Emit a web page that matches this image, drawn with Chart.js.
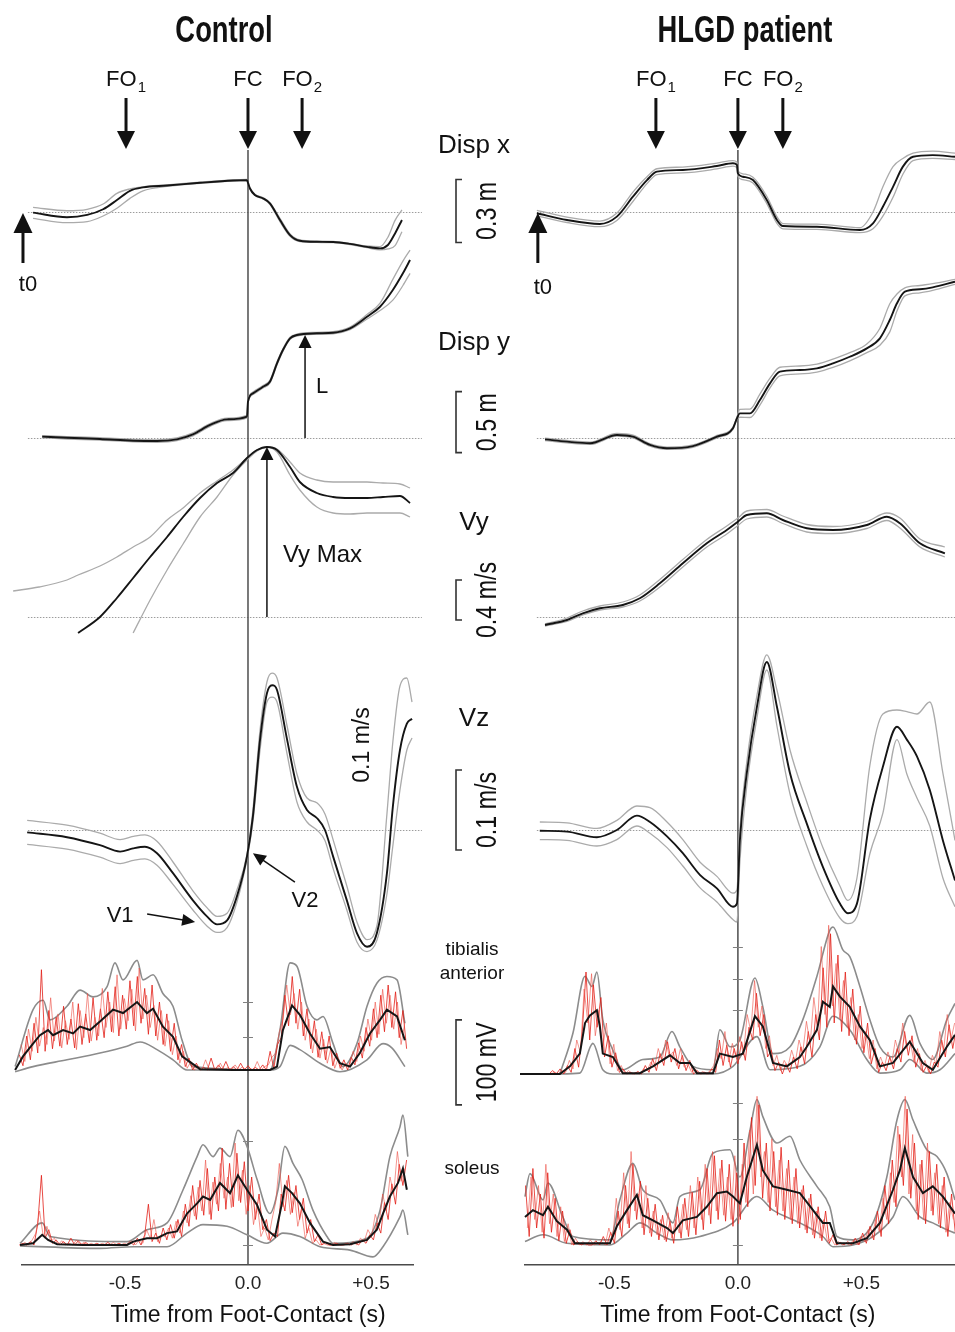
<!DOCTYPE html>
<html>
<head>
<meta charset="utf-8">
<title>Control vs HLGD patient</title>
<script src="https://cdn.jsdelivr.net/npm/chart.js@4.4.1/dist/chart.umd.min.js"></script>
<style>
  html, body { margin: 0; padding: 0; background: #fff; }
  #figure { position: relative; width: 955px; height: 1332px; overflow: hidden; }
  canvas { position: absolute; top: 0; }
</style>
</head>
<body>
<div id="figure">
  <canvas id="ctlChart" width="530" height="1332" style="left:0"></canvas>
  <canvas id="hlgChart" width="435" height="1332" style="left:520px"></canvas>
</div>
<script>
// time from foot contact (s)
const xTicks = [-0.5, 0, 0.5];
const eventNames = ['FO', 'FC', 'FO'];
const eventSubs = ['1', '', '2'];
const RAW_DT = 0.015;

// ---------- Control ----------
const ctlEvents = [-0.496, 0, 0.22];
const ctlT0 = -0.915;

const ctlDxT    = [-0.874, -0.736, -0.654, -0.589, -0.533, -0.480, -0.427, -0.329, -0.195, -0.061, -0.004, 0.0, 0.008, 0.028, 0.061, 0.089, 0.130, 0.171, 0.211, 0.280, 0.346, 0.415, 0.484, 0.537, 0.569, 0.598, 0.626];
const ctlDxMean = [-0.003, -0.025, -0.014, 0.013, 0.057, 0.101, 0.117, 0.126, 0.139, 0.150, 0.152, 0.139, 0.112, 0.081, 0.065, 0.041, -0.038, -0.110, -0.137, -0.142, -0.143, -0.152, -0.166, -0.173, -0.157, -0.102, -0.038];
const ctlDxHi   = [0.022, 0.006, 0.013, 0.038, 0.089, 0.110, 0.120, 0.129, 0.142, 0.153, 0.155, 0.142, 0.115, 0.084, 0.068, 0.044, -0.030, -0.104, -0.133, -0.139, -0.140, -0.149, -0.162, -0.165, -0.120, -0.040, 0.010];
const ctlDxLo   = [-0.030, -0.051, -0.046, -0.019, 0.018, 0.065, 0.101, 0.122, 0.136, 0.147, 0.149, 0.136, 0.108, 0.078, 0.062, 0.037, -0.046, -0.116, -0.141, -0.145, -0.146, -0.155, -0.170, -0.180, -0.176, -0.160, -0.094];

const ctlDyT    = [-0.837, -0.736, -0.602, -0.467, -0.370, -0.289, -0.224, -0.154, -0.085, -0.004, 0.0, 0.020, 0.061, 0.089, 0.118, 0.142, 0.171, 0.199, 0.280, 0.346, 0.415, 0.484, 0.537, 0.589, 0.630, 0.659];
const ctlDyMean = [0.011, 0.002, -0.008, -0.022, -0.025, -0.011, 0.030, 0.107, 0.153, 0.175, 0.298, 0.366, 0.420, 0.461, 0.612, 0.721, 0.817, 0.844, 0.858, 0.863, 0.899, 0.994, 1.076, 1.213, 1.350, 1.459];
const ctlDyHi   = [0.020, 0.012, 0.002, -0.012, -0.015, 0.000, 0.042, 0.118, 0.163, 0.185, 0.308, 0.376, 0.430, 0.472, 0.625, 0.732, 0.826, 0.852, 0.866, 0.872, 0.910, 1.012, 1.105, 1.300, 1.450, 1.540];
const ctlDyLo   = [0.002, -0.008, -0.018, -0.032, -0.035, -0.022, 0.018, 0.096, 0.143, 0.165, 0.288, 0.356, 0.410, 0.450, 0.600, 0.710, 0.808, 0.836, 0.850, 0.854, 0.888, 0.975, 1.045, 1.130, 1.250, 1.350];

const ctlVyT    = [-0.955, -0.85, -0.736, -0.691, -0.602, -0.533, -0.467, -0.398, -0.329, -0.264, -0.195, -0.126, -0.061, -0.004, 0.037, 0.077, 0.118, 0.171, 0.211, 0.280, 0.346, 0.415, 0.484, 0.549, 0.618, 0.659];
const ctlVyMean = [null, null, null, -0.16, 0.00, 0.19, 0.39, 0.60, 0.80, 1.00, 1.19, 1.34, 1.44, 1.59, 1.67, 1.70, 1.67, 1.50, 1.35, 1.24, 1.20, 1.19, 1.19, 1.20, 1.21, 1.14];
const ctlVyHi   = [0.26, 0.30, 0.37, 0.42, 0.51, 0.60, 0.70, 0.80, 0.97, 1.09, 1.24, 1.36, 1.47, 1.59, 1.67, 1.70, 1.68, 1.55, 1.44, 1.37, 1.35, 1.35, 1.35, 1.34, 1.33, 1.29];
const ctlVyLo   = [null, null, null, null, null, null, -0.16, 0.17, 0.47, 0.73, 1.00, 1.20, 1.42, 1.57, 1.66, 1.70, 1.65, 1.42, 1.27, 1.10, 1.04, 1.03, 1.04, 1.04, 1.04, 1.00];

const ctlVzT    = [-0.898, -0.736, -0.602, -0.520, -0.467, -0.419, -0.370, -0.305, -0.224, -0.167, -0.126, -0.085, -0.045, -0.004, 0.020, 0.049, 0.077, 0.098, 0.118, 0.159, 0.199, 0.240, 0.280, 0.313, 0.346, 0.402, 0.443, 0.484, 0.524, 0.565, 0.589, 0.618, 0.646, 0.667];
const ctlVzMean = [-0.003, -0.009, -0.019, -0.027, -0.023, -0.021, -0.029, -0.054, -0.088, -0.108, -0.118, -0.113, -0.083, -0.033, 0.017, 0.113, 0.171, 0.181, 0.175, 0.113, 0.054, 0.025, 0.015, 0.000, -0.033, -0.088, -0.129, -0.146, -0.129, -0.054, 0.029, 0.100, 0.133, 0.139];
const ctlVzHi   = [0.012, 0.006, -0.004, -0.012, -0.008, -0.006, -0.014, -0.040, -0.076, -0.097, -0.108, -0.104, -0.075, -0.030, 0.025, 0.125, 0.185, 0.196, 0.190, 0.130, 0.070, 0.040, 0.034, 0.020, -0.012, -0.070, -0.115, -0.137, -0.120, 0.020, 0.110, 0.180, 0.190, 0.160];
const ctlVzLo   = [-0.018, -0.024, -0.034, -0.042, -0.038, -0.036, -0.044, -0.068, -0.100, -0.120, -0.128, -0.122, -0.090, -0.036, 0.010, 0.100, 0.160, 0.166, 0.160, 0.095, 0.035, 0.010, 0.000, -0.013, -0.048, -0.100, -0.140, -0.152, -0.138, -0.080, -0.020, 0.050, 0.100, 0.115];

const ctlTaT    = [-0.947, -0.915, -0.874, -0.846, -0.813, -0.793, -0.752, -0.711, -0.683, -0.642, -0.602, -0.549, -0.508, -0.451, -0.411, -0.386, -0.346, -0.305, -0.268, -0.195, -0.061, 0.089, 0.118, 0.142, 0.179, 0.211, 0.252, 0.293, 0.333, 0.374, 0.415, 0.455, 0.496, 0.537, 0.565, 0.606, 0.638];
const ctlTaMean = [0, 16, 31, 41, 47, 41, 47, 43, 51, 47, 57, 71, 67, 80, 67, 72, 51, 39, 16, 1, 0, 0, 4, 47, 76, 65, 43, 25, 27, 8, 4, 20, 43, 59, 71, 63, 35];
const ctlTaHiT  = [-0.947, -0.874, -0.833, -0.805, -0.736, -0.683, -0.630, -0.573, -0.541, -0.508, -0.451, -0.427, -0.386, -0.346, -0.305, -0.268, -0.224, 0.089, 0.130, 0.171, 0.199, 0.240, 0.280, 0.305, 0.346, 0.386, 0.443, 0.484, 0.524, 0.565, 0.606, 0.638];
const ctlTaHi   = [4, 71, 82, 59, 75, 94, 86, 98, 126, 106, 129, 106, 112, 90, 75, 35, 4, 0, 47, 126, 122, 75, 59, 63, 31, 4, 31, 75, 102, 110, 106, 55];
const ctlTaLoT  = [-0.947, -0.874, -0.736, -0.602, -0.492, -0.439, -0.370, -0.305, -0.248, 0.089, 0.130, 0.171, 0.211, 0.293, 0.374, 0.484, 0.549, 0.585, 0.638];
const ctlTaLo   = [-2, 4, 12, 20, 28, 33, 24, 12, 0, 0, 4, 29, 24, 8, -2, 12, 31, 26, 4];
const ctlTaRawStart = -0.945;
const ctlTaRaw  = [0, 18, 5, 40, 12, 55, 20, 118, 22, 70, 25, 62, 28, 75, 30, 60, 26, 78, 30, 66,
                   32, 85, 35, 72, 38, 92, 45, 98, 40, 88, 48, 105, 52, 110, 55, 96, 42, 100, 40, 80,
                   30, 66, 22, 55, 12, 30, 4, 14, 0, 8, 0, 3, 0, 14, 0, 6, 0, 10, 0, 4,
                   0, 8, 0, 5, 0, 3, 0, 6, 0, 22, 2, 30, 38, 88, 52, 110, 55, 95, 40, 72,
                   25, 58, 15, 45, 12, 40, 5, 20, 2, 12, 0, 15, 6, 32, 14, 50, 28, 72, 38, 88,
                   45, 100, 50, 92, 38, 70, 25];
const ctlTaRaw2Start = -0.9375;
const ctlTaRaw2 = [2, 30, 10, 48, 22, 62, 28, 50, 30, 85, 34, 66, 26, 58, 36, 80, 24, 70, 38, 90,
                   34, 62, 40, 96, 50, 80, 44, 112, 48, 84, 58, 95, 46, 120, 60, 88, 50, 76, 35, 70,
                   28, 58, 18, 40, 8, 22, 2, 10, 0, 4, 0, 12, 0, 2, 0, 8, 0, 3, 0, 6,
                   0, 4, 0, 2, 0, 10, 0, 4, 6, 15, 20, 45, 60, 100, 65, 90, 48, 80, 35, 60,
                   20, 48, 14, 36, 8, 26, 2, 14, 0, 8, 4, 22, 10, 40, 22, 60, 35, 80, 42, 95,
                   55, 88, 48, 80, 30, 55];

const ctlSoT    = [-0.927, -0.874, -0.837, -0.813, -0.776, -0.671, -0.492, -0.467, -0.411, -0.370, -0.329, -0.289, -0.248, -0.207, -0.183, -0.154, -0.114, -0.073, -0.041, -0.004, 0.037, 0.077, 0.110, 0.138, 0.150, 0.179, 0.211, 0.252, 0.305, 0.346, 0.415, 0.484, 0.524, 0.549, 0.577, 0.610, 0.630, 0.646];
const ctlSoMean = [0, 2, 12, 6, 1, 0, 0, 4, 8, 8, 14, 16, 37, 49, 57, 53, 73, 61, 82, 65, 47, 18, 10, 49, 69, 61, 49, 26, 4, 0, 1, 6, 18, 37, 57, 73, 90, 65];
const ctlSoHiT  = [-0.927, -0.837, -0.805, -0.492, -0.411, -0.329, -0.264, -0.207, -0.183, -0.142, -0.114, -0.073, -0.041, -0.004, 0.037, 0.089, 0.122, 0.150, 0.183, 0.220, 0.264, 0.321, 0.346, 0.484, 0.537, 0.577, 0.618, 0.630, 0.650];
const ctlSoHi   = [2, 26, 10, 4, 18, 26, 65, 104, 118, 104, 114, 104, 135, 116, 77, 37, 65, 116, 96, 77, 41, 10, 2, 8, 41, 104, 139, 153, 104];
const ctlSoLoT  = [-0.927, -0.602, -0.467, -0.329, -0.248, -0.183, -0.085, -0.004, 0.077, 0.142, 0.211, 0.293, 0.415, 0.508, 0.549, 0.618, 0.630, 0.650];
const ctlSoLo   = [-1, -4, -2, -2, 14, 24, 22, 12, 2, 14, 10, -2, -6, -14, -2, 33, 41, 12];
const ctlSoRawStart = -0.93;
const ctlSoRaw  = [0, 2, 0, 4, 0, 25, 82, 8, 18, 2, 6, 0, 4, 0, 8, 0, 5, 0, 3, 0,
                   0, 2, 0, 0, 3, 0, 0, 2, 0, 0, 4, 0, 8, 0, 12, 48, 4, 14, 2, 20,
                   6, 24, 8, 30, 10, 48, 22, 70, 30, 76, 35, 90, 30, 80, 40, 114, 42, 96, 45, 108,
                   50, 98, 40, 80, 30, 60, 18, 30, 5, 14, 10, 60, 40, 82, 38, 70, 30, 55, 14, 30,
                   4, 12, 0, 3, 0, 0, 2, 0, 0, 2, 0, 3, 0, 6, 2, 12, 6, 26, 14, 50,
                   30, 72, 48, 95, 70, 100];
const ctlSoRaw2Start = -0.9225;
const ctlSoRaw2 = [0, 3, 0, 6, 14, 40, 10, 22, 4, 8, 0, 5, 0, 2, 0, 6, 0, 3, 0, 2,
                   0, 0, 2, 0, 0, 3, 0, 0, 2, 0, 5, 0, 6, 2, 18, 8, 30, 4, 12, 10,
                   20, 8, 28, 14, 40, 26, 58, 34, 68, 40, 100, 36, 74, 48, 96, 55, 80, 44, 120, 52,
                   88, 36, 70, 24, 50, 10, 20, 6, 30, 50, 96, 45, 76, 36, 62, 22, 42, 8, 20, 2,
                   6, 0, 2, 0, 0, 3, 0, 0, 2, 0, 4, 0, 8, 4, 18, 10, 36, 22, 60, 40,
                   80, 60, 110, 75, 90];

// ---------- HLGD patient ----------
const hlgEvents = [-0.332, 0, 0.182];
const hlgT0 = -0.81;

const hlgDxT    = [-0.814, -0.692, -0.559, -0.490, -0.425, -0.368, -0.328, -0.223, -0.085, -0.020, -0.004, 0.0, 0.020, 0.061, 0.117, 0.158, 0.182, 0.320, 0.494, 0.547, 0.587, 0.628, 0.668, 0.709, 0.789, 0.879];
const hlgDxMean = [-0.006, -0.038, -0.057, -0.022, 0.073, 0.152, 0.192, 0.200, 0.219, 0.232, 0.224, 0.184, 0.168, 0.152, 0.057, -0.038, -0.067, -0.070, -0.086, -0.054, 0.025, 0.120, 0.216, 0.263, 0.271, 0.263];
const hlgDxHi   = [0.008, -0.024, -0.043, -0.005, 0.095, 0.168, 0.206, 0.214, 0.233, 0.245, 0.238, 0.198, 0.182, 0.166, 0.075, -0.022, -0.055, -0.058, -0.075, 0.000, 0.120, 0.216, 0.255, 0.280, 0.290, 0.280];
const hlgDxLo   = [-0.018, -0.050, -0.070, -0.040, 0.050, 0.135, 0.178, 0.186, 0.205, 0.218, 0.210, 0.170, 0.154, 0.138, 0.040, -0.054, -0.080, -0.083, -0.098, -0.080, -0.020, 0.070, 0.180, 0.245, 0.255, 0.250];

const hlgDyT    = [-0.781, -0.692, -0.599, -0.490, -0.425, -0.356, -0.287, -0.182, -0.085, -0.020, -0.004, 0.008, 0.049, 0.089, 0.130, 0.170, 0.251, 0.320, 0.385, 0.453, 0.522, 0.575, 0.615, 0.644, 0.676, 0.737, 0.789, 0.879];
const hlgDyMean = [-0.011, -0.030, -0.043, 0.025, 0.011, -0.057, -0.084, -0.066, 0.011, 0.080, 0.161, 0.202, 0.202, 0.311, 0.448, 0.544, 0.557, 0.571, 0.612, 0.666, 0.735, 0.817, 0.967, 1.104, 1.199, 1.219, 1.235, 1.281];
const hlgDyHi   = [-0.001, -0.020, -0.033, 0.037, 0.023, -0.047, -0.074, -0.056, 0.021, 0.090, 0.171, 0.235, 0.237, 0.360, 0.490, 0.580, 0.590, 0.606, 0.647, 0.700, 0.770, 0.900, 1.100, 1.180, 1.230, 1.250, 1.265, 1.300];
const hlgDyLo   = [-0.021, -0.040, -0.053, 0.015, 0.001, -0.067, -0.094, -0.076, 0.001, 0.070, 0.151, 0.170, 0.168, 0.270, 0.410, 0.510, 0.525, 0.540, 0.578, 0.632, 0.700, 0.760, 0.870, 1.040, 1.165, 1.190, 1.210, 1.260];

const hlgVyT    = [-0.781, -0.692, -0.628, -0.559, -0.466, -0.397, -0.316, -0.223, -0.126, -0.045, 0.0, 0.036, 0.117, 0.182, 0.279, 0.385, 0.522, 0.603, 0.656, 0.737, 0.838];
const hlgVyMean = [-0.08, -0.03, 0.037, 0.087, 0.12, 0.187, 0.337, 0.537, 0.737, 0.87, 0.953, 1.02, 1.037, 0.97, 0.887, 0.87, 0.92, 1.003, 0.937, 0.737, 0.637];
const hlgVyHi   = [-0.07, -0.01, 0.06, 0.11, 0.15, 0.22, 0.375, 0.575, 0.775, 0.91, 0.99, 1.06, 1.075, 1.01, 0.925, 0.905, 0.955, 1.04, 0.99, 0.78, 0.70];
const hlgVyLo   = [-0.09, -0.045, 0.02, 0.07, 0.10, 0.16, 0.30, 0.50, 0.70, 0.83, 0.915, 0.98, 1.0, 0.935, 0.85, 0.835, 0.885, 0.965, 0.89, 0.70, 0.60];

const hlgVzT    = [-0.802, -0.692, -0.571, -0.490, -0.409, -0.356, -0.287, -0.223, -0.154, -0.085, -0.020, -0.004, 0.008, 0.036, 0.077, 0.117, 0.158, 0.211, 0.279, 0.344, 0.413, 0.445, 0.482, 0.534, 0.587, 0.644, 0.684, 0.725, 0.777, 0.830, 0.879];
const hlgVzMean = [-0.001, -0.002, -0.009, 0.000, 0.018, 0.010, -0.008, -0.029, -0.056, -0.073, -0.096, -0.092, -0.013, 0.071, 0.154, 0.210, 0.154, 0.071, 0.008, -0.046, -0.092, -0.104, -0.092, 0.013, 0.079, 0.129, 0.113, 0.092, 0.050, -0.013, -0.063];
const hlgVzHi   = [0.010, 0.009, 0.002, 0.012, 0.030, 0.028, 0.010, -0.012, -0.040, -0.058, -0.079, -0.075, 0.000, 0.085, 0.168, 0.219, 0.175, 0.100, 0.035, -0.022, -0.070, -0.088, -0.060, 0.080, 0.145, 0.150, 0.148, 0.145, 0.160, 0.071, -0.013];
const hlgVzLo   = [-0.012, -0.013, -0.020, -0.012, 0.005, -0.004, -0.022, -0.045, -0.072, -0.090, -0.112, -0.115, -0.040, 0.055, 0.140, 0.200, 0.130, 0.045, -0.020, -0.070, -0.110, -0.117, -0.108, -0.030, 0.021, 0.113, 0.070, 0.040, 0.005, -0.060, -0.096];

const hlgTaT    = [-0.891, -0.721, -0.680, -0.640, -0.619, -0.599, -0.571, -0.559, -0.547, -0.506, -0.466, -0.397, -0.344, -0.275, -0.235, -0.194, -0.166, -0.101, -0.073, -0.020, 0.020, 0.069, 0.101, 0.142, 0.198, 0.251, 0.279, 0.320, 0.344, 0.372, 0.385, 0.413, 0.453, 0.494, 0.534, 0.575, 0.628, 0.696, 0.749, 0.789, 0.846, 0.879];
const hlgTaMean = [0, 0, 9, 24, 60, 69, 75, 56, 24, 20, 1, 1, 9, 22, 13, 13, 1, 1, 24, 20, 24, 68, 56, 13, 9, 20, 32, 52, 85, 79, 103, 91, 79, 56, 40, 9, 13, 38, 13, 5, 32, 46];
const hlgTaHiT  = [-0.721, -0.668, -0.619, -0.591, -0.571, -0.547, -0.506, -0.466, -0.385, -0.316, -0.267, -0.235, -0.182, -0.101, -0.073, -0.032, 0.008, 0.069, 0.101, 0.142, 0.211, 0.263, 0.320, 0.372, 0.385, 0.425, 0.453, 0.494, 0.534, 0.575, 0.628, 0.696, 0.737, 0.789, 0.846, 0.879];
const hlgTaHi   = [0, 48, 115, 103, 120, 64, 28, 5, 17, 20, 50, 32, 9, 5, 52, 32, 40, 113, 79, 24, 32, 64, 115, 169, 173, 146, 138, 103, 64, 32, 20, 69, 36, 17, 64, 83];
const hlgTaLoT  = [-0.721, -0.640, -0.587, -0.547, -0.506, -0.101, -0.020, 0.077, 0.130, 0.251, 0.332, 0.385, 0.453, 0.522, 0.575, 0.656, 0.696, 0.765, 0.818, 0.879];
const hlgTaLo   = [0, 1, 36, 5, 0, 0, 9, 44, 5, 9, 32, 68, 52, 17, 1, 5, 17, 1, 5, 24];
const hlgTaRawStart = -0.765;
const hlgTaRaw  = [0, 4, 0, 6, 0, 10, 2, 30, 8, 50, 120, 40, 105, 55, 90, 20, 45, 8, 25, 2,
                   6, 0, 2, 0, 3, 0, 10, 2, 18, 4, 24, 10, 38, 14, 30, 6, 22, 4, 16, 0,
                   4, 0, 2, 0, 6, 2, 40, 10, 34, 8, 30, 12, 38, 16, 55, 40, 95, 45, 70, 20,
                   28, 4, 14, 0, 12, 2, 20, 6, 32, 12, 50, 20, 70, 40, 125, 55, 165, 60, 140, 50,
                   120, 45, 100, 35, 80, 25, 60, 12, 30, 2, 14, 4, 20, 6, 30, 14, 50, 22, 45, 8,
                   24, 2, 10, 0, 14, 8, 40, 20, 58, 30, 55];
const hlgTaRaw2Start = -0.7575;
const hlgTaRaw2 = [0, 2, 0, 4, 2, 16, 6, 40, 25, 100, 60, 118, 45, 75, 30, 60, 12, 35, 4, 10,
                   0, 4, 0, 2, 0, 6, 4, 14, 8, 30, 15, 40, 20, 26, 10, 30, 8, 12, 2, 6,
                   0, 3, 0, 4, 10, 30, 18, 50, 14, 36, 20, 44, 22, 70, 50, 110, 55, 80, 30, 45,
                   10, 22, 4, 16, 8, 28, 14, 40, 25, 62, 35, 90, 55, 150, 70, 175, 80, 130, 65, 110,
                   55, 90, 40, 70, 30, 50, 18, 40, 6, 20, 8, 26, 12, 40, 24, 60, 30, 40, 14, 30,
                   4, 16, 2, 22, 12, 50, 26, 70, 40, 60];

const hlgSoT    = [-0.862, -0.830, -0.789, -0.769, -0.733, -0.692, -0.660, -0.559, -0.518, -0.490, -0.449, -0.409, -0.385, -0.344, -0.287, -0.263, -0.223, -0.166, -0.126, -0.085, -0.045, -0.020, 0.008, 0.036, 0.077, 0.101, 0.142, 0.198, 0.251, 0.304, 0.344, 0.372, 0.401, 0.466, 0.522, 0.575, 0.628, 0.656, 0.676, 0.709, 0.749, 0.789, 0.830, 0.879];
const hlgSoMean = [33, 41, 35, 45, 28, 18, 2, 2, 2, 22, 41, 59, 35, 29, 20, 14, 29, 33, 45, 61, 63, 57, 49, 80, 118, 88, 69, 65, 61, 41, 26, 26, 2, 2, 8, 26, 65, 88, 114, 80, 61, 69, 57, 37];
const hlgSoHiT  = [-0.862, -0.842, -0.789, -0.769, -0.709, -0.668, -0.518, -0.478, -0.425, -0.385, -0.316, -0.263, -0.235, -0.154, -0.101, -0.032, 0.008, 0.049, 0.077, 0.101, 0.158, 0.211, 0.251, 0.320, 0.372, 0.401, 0.466, 0.547, 0.603, 0.644, 0.676, 0.709, 0.765, 0.806, 0.846, 0.879];
const hlgSoHi   = [57, 84, 53, 73, 33, 10, 6, 53, 96, 65, 53, 26, 57, 65, 108, 112, 80, 135, 171, 151, 120, 128, 100, 69, 45, 10, 6, 26, 80, 147, 171, 147, 112, 104, 84, 53];
const hlgSoLoT  = [-0.862, -0.789, -0.692, -0.518, -0.449, -0.397, -0.328, -0.263, -0.154, -0.020, 0.077, 0.142, 0.251, 0.344, 0.385, 0.466, 0.547, 0.628, 0.668, 0.737, 0.789, 0.846, 0.879];
const hlgSoLo   = [4, 12, 2, 0, 14, 26, 14, 6, 10, 26, 57, 41, 26, 10, -2, 0, 10, 33, 57, 33, 26, 18, 14];
const hlgSoRawStart = -0.86;
const hlgSoRaw  = [70, 10, 90, 20, 60, 8, 85, 15, 55, 5, 40, 2, 18, 0, 4, 0, 2, 0, 0, 5,
                   0, 10, 0, 15, 2, 40, 10, 70, 20, 95, 30, 75, 12, 55, 10, 48, 6, 35, 4, 28,
                   2, 45, 8, 55, 10, 62, 12, 75, 18, 90, 25, 105, 30, 100, 28, 95, 22, 85, 30, 120,
                   45, 150, 70, 165, 55, 120, 40, 110, 35, 115, 30, 100, 25, 90, 20, 70, 14, 60, 8, 45,
                   5, 40, 2, 12, 0, 3, 0, 4, 0, 8, 0, 14, 2, 22, 6, 40, 10, 70, 25, 100,
                   45, 130, 70, 160, 55, 120, 30, 100, 25, 110, 35, 95, 20, 80, 10, 60, 15];
const hlgSoRaw2Start = -0.8525;
const hlgSoRaw2 = [20, 80, 30, 70, 15, 95, 25, 60, 10, 45, 4, 25, 0, 8, 0, 4, 0, 6, 0, 2,
                   4, 0, 20, 6, 55, 18, 85, 25, 110, 40, 60, 20, 70, 14, 40, 12, 30, 6, 38, 8,
                   30, 14, 48, 18, 70, 20, 80, 30, 95, 35, 110, 40, 90, 35, 80, 30, 105, 25, 95, 50,
                   135, 60, 175, 80, 110, 50, 125, 45, 100, 40, 90, 30, 80, 25, 65, 18, 55, 12, 40, 8,
                   30, 4, 8, 0, 4, 0, 2, 0, 6, 0, 10, 4, 18, 8, 30, 16, 55, 30, 85, 50,
                   140, 80, 175, 60, 130, 40, 95, 30, 120, 40, 85, 25, 70, 15, 50, 30];

// ---------- layout ----------
const PLOT_TOP = 100, PLOT_BOTTOM = 1265, XAXIS_H = 67;
const pxPerUnit = {dx: 210, dy: 122, vy: 100, vz: 800, ta: 0.85, so: 0.85};
const FONT = '"Liberation Sans", Arial, sans-serif';
const INK = '#111';
const GRAY_K = '#ababab', GRAY_E = '#8c8c8c', BLACK = '#151515';
const RED = 'rgba(226,30,22,0.8)', RED2 = 'rgba(236,80,70,0.6)';

function pts(ts, vs) {
  const out = [];
  for (let i = 0; i < ts.length; i++) if (vs[i] !== null) out.push({x: ts[i], y: vs[i]});
  return out;
}
function rawPts(t0, vs) {
  return vs.map((v, i) => ({x: Math.round((t0 + i * RAW_DT) * 10000) / 10000, y: v}));
}
function ds(data, axis, color, width, order, smooth) {
  return {
    data, yAxisID: axis, borderColor: color, borderWidth: width, order,
    pointRadius: 0, fill: false, clip: false,
    tension: smooth ? 0.4 : 0, cubicInterpolationMode: smooth ? 'monotone' : 'default'
  };
}
function kinematic(axis, t, mean, hi, lo) {
  return [
    ds(pts(t, hi), axis, GRAY_K, 1.3, 2, true),
    ds(pts(t, lo), axis, GRAY_K, 1.3, 2, true),
    ds(pts(t, mean), axis, BLACK, 1.9, 0, true)
  ];
}
function emg(axis, t, mean, hiT, hi, loT, lo, raw1Start, raw1, raw2Start, raw2) {
  return [
    ds(pts(hiT, hi), axis, GRAY_E, 1.6, 3, true),
    ds(pts(loT, lo), axis, GRAY_E, 1.6, 3, true),
    ds(rawPts(raw2Start, raw2), axis, RED2, 1, 1, false),
    ds(rawPts(raw1Start, raw1), axis, RED, 1, 1, false),
    ds(pts(t, mean), axis, BLACK, 2, 0, false)
  ];
}
function yAxes(base) {
  const s = {};
  for (const k in pxPerUnit) {
    s[k] = {type: 'linear', display: false,
      min: -(PLOT_BOTTOM - base[k]) / pxPerUnit[k], max: (base[k] - PLOT_TOP) / pxPerUnit[k]};
  }
  return s;
}

function arrowHead(ctx, x, y, ang, len, half) {
  ctx.save(); ctx.translate(x, y); ctx.rotate(ang);
  ctx.beginPath(); ctx.moveTo(0, 0); ctx.lineTo(-len, -half); ctx.lineTo(-len, half); ctx.closePath(); ctx.fill();
  ctx.restore();
}
function arrow(ctx, x1, y1, x2, y2, lw, len, half) {
  const a = Math.atan2(y2 - y1, x2 - x1);
  ctx.lineWidth = lw;
  ctx.beginPath(); ctx.moveTo(x1, y1); ctx.lineTo(x2 - Math.cos(a) * len * 0.8, y2 - Math.sin(a) * len * 0.8); ctx.stroke();
  arrowHead(ctx, x2, y2, a, len, half);
}
// condensed text: plain sans squeezed along the writing direction
function narrowText(ctx, text, x, y, font, sx, rot) {
  ctx.save(); ctx.translate(x, y);
  if (rot) ctx.rotate(rot);
  ctx.scale(sx, 1);
  ctx.font = font; ctx.fillText(text, 0, 0);
  ctx.restore();
}
function subLabel(ctx, cx, y, main, sub) {
  ctx.font = '22px ' + FONT;
  const w1 = ctx.measureText(main).width;
  ctx.font = '15px ' + FONT;
  const w2 = sub ? ctx.measureText(sub).width + 1 : 0;
  const x = cx - (w1 + w2) / 2;
  ctx.textAlign = 'left';
  ctx.font = '22px ' + FONT; ctx.fillText(main, x, y);
  if (sub) { ctx.font = '15px ' + FONT; ctx.fillText(sub, x + w1 + 1, y + 6); }
}

// middle column: trace names and scale bars
const midNames = ['Disp x', 'Disp y', 'Vy', 'Vz'];
const midNameY = [153, 350, 530, 726];
const barLabels = ['0.3 m', '0.5 m', '0.4 m/s', '0.1 m/s', '100 mV'];
const barAxes = ['dx', 'dy', 'vy', 'vz', 'ta'];
const barLen = [0.3, 0.5, 0.4, 0.1, 100];
const barFrom = [-0.145, -0.12, -0.03, -0.025, -41];

function drawMid(ctx, s) {
  ctx.textAlign = 'center'; ctx.textBaseline = 'alphabetic';
  ctx.font = '26px ' + FONT;
  midNames.forEach((n, i) => ctx.fillText(n, 474, midNameY[i]));
  ctx.font = '19px ' + FONT;
  ctx.fillText('tibialis', 472, 955);
  ctx.fillText('anterior', 472, 979);
  ctx.fillText('soleus', 472, 1174);
  ctx.strokeStyle = '#333'; ctx.lineWidth = 1.6;
  barAxes.forEach((k, i) => {
    const y1 = s[k].getPixelForValue(barFrom[i]);
    const y2 = s[k].getPixelForValue(barFrom[i] + barLen[i]);
    ctx.beginPath(); ctx.moveTo(462, y1); ctx.lineTo(456, y1); ctx.lineTo(456, y2); ctx.lineTo(462, y2); ctx.stroke();
    ctx.textBaseline = 'middle';
    narrowText(ctx, barLabels[i], 488, (y1 + y2) / 2, '29px ' + FONT, 0.8, -Math.PI / 2);
  });
}

// control-only annotations
const ctlLArrow = [0.232, 0.844];
const ctlVyMaxArrow = [0.077, 1.70];
const ctlV1Tip = [-0.215, -0.115];
const ctlV2Tip = [0.02, -0.029];

function drawNotes(ctx, X, s) {
  ctx.strokeStyle = INK; ctx.fillStyle = INK;
  let x = X(ctlLArrow[0]);
  arrow(ctx, x, s.dy.getPixelForValue(0), x, s.dy.getPixelForValue(ctlLArrow[1]), 1.5, 13, 6.5);
  ctx.font = '22px ' + FONT; ctx.textAlign = 'left'; ctx.textBaseline = 'alphabetic';
  ctx.fillText('L', x + 11, 393);
  x = X(ctlVyMaxArrow[0]);
  arrow(ctx, x, s.vy.getPixelForValue(0), x, s.vy.getPixelForValue(ctlVyMaxArrow[1]), 1.5, 13, 6.5);
  ctx.font = '24px ' + FONT; ctx.fillText('Vy Max', x + 16, 562);
  let tx = X(ctlV1Tip[0]), ty = s.vz.getPixelForValue(ctlV1Tip[1]);
  arrow(ctx, tx - 48, ty - 8, tx, ty, 1.5, 13, 6);
  ctx.font = '22px ' + FONT; ctx.textAlign = 'center'; ctx.fillText('V1', tx - 75, ty);
  tx = X(ctlV2Tip[0]); ty = s.vz.getPixelForValue(ctlV2Tip[1]);
  arrow(ctx, tx + 42, ty + 29, tx, ty, 1.5, 13, 6);
  ctx.fillText('V2', tx + 52, ty + 54);
  ctx.save(); ctx.translate(363, 745); ctx.rotate(-Math.PI / 2);
  ctx.font = '23px ' + FONT; ctx.textBaseline = 'middle'; ctx.fillText('0.1 m/s', 0, 0);
  ctx.restore();
}

function figurePlugin(p) {
  return {
    id: 'figure_' + p.key,
    beforeDatasetsDraw(chart) {
      const ctx = chart.ctx, xs = chart.scales.x, s = chart.scales;
      ctx.save();
      ctx.strokeStyle = '#9c9c9c'; ctx.lineWidth = 1; ctx.setLineDash([1.5, 1.5]);
      ['dx', 'dy', 'vy', 'vz'].forEach(k => {
        const y = Math.round(s[k].getPixelForValue(0)) + 0.5;
        ctx.beginPath(); ctx.moveTo(xs.getPixelForValue(p.baseFrom), y); ctx.lineTo(xs.getPixelForValue(p.baseTo), y); ctx.stroke();
      });
      ctx.setLineDash([]);
      const x0 = xs.getPixelForValue(0);
      ctx.strokeStyle = '#4d4d4d'; ctx.lineWidth = 1.5;
      ctx.beginPath(); ctx.moveTo(x0, 150); ctx.lineTo(x0, chart.chartArea.bottom); ctx.stroke();
      ctx.strokeStyle = '#808080'; ctx.lineWidth = 1;
      ['ta', 'so'].forEach(k => p.emgTicks[k].forEach(v => {
        const y = Math.round(s[k].getPixelForValue(v)) + 0.5;
        ctx.beginPath(); ctx.moveTo(x0 - 5, y); ctx.lineTo(x0 + 5, y); ctx.stroke();
      }));
      ctx.restore();
    },
    afterDraw(chart) {
      const ctx = chart.ctx, xs = chart.scales.x, s = chart.scales;
      const X = t => xs.getPixelForValue(t);
      ctx.save();
      ctx.fillStyle = INK; ctx.strokeStyle = INK;
      ctx.textBaseline = 'alphabetic'; ctx.textAlign = 'center';
      narrowText(ctx, p.title, p.titleX - p.left, 42, 'bold 36px ' + FONT, 0.76, 0);
      p.events.forEach((t, i) => {
        const x = X(t);
        subLabel(ctx, x, 86, eventNames[i], eventSubs[i]);
        arrow(ctx, x, 98, x, 149, 3, 18, 9);
      });
      const xt = X(p.t0);
      arrow(ctx, xt, 263, xt, 213, 3, 20, 9.5);
      ctx.font = '22px ' + FONT; ctx.textAlign = 'center';
      ctx.fillText('t0', xt + 5, p.t0LabelY);
      ctx.font = '23px ' + FONT;
      ctx.fillText('Time from Foot-Contact (s)', X(0), 1322);
      if (p.mid) drawMid(ctx, s);
      if (p.notes) drawNotes(ctx, X, s);
      ctx.restore();
    }
  };
}

function makeChart(p) {
  new Chart(document.getElementById(p.canvas), {
    type: 'line',
    data: {datasets: p.datasets},
    options: {
      responsive: false, animation: false, devicePixelRatio: 1, events: [],
      layout: {padding: {left: p.padL, right: p.padR, top: PLOT_TOP, bottom: 0}, autoPadding: false},
      plugins: {legend: {display: false}, tooltip: {enabled: false}},
      scales: Object.assign({
        x: {
          type: 'linear', min: p.xMin, max: p.xMax, offset: false,
          grid: {display: false, drawTicks: false},
          border: {display: true, color: '#4a4a4a', width: 1.5},
          ticks: {
            font: {family: FONT, size: 19}, color: '#222', padding: 7, autoSkip: false, maxRotation: 0,
            callback: v => v === 0 ? '0.0' : (v > 0 ? '+' + v.toFixed(1) : v.toFixed(1))
          },
          afterBuildTicks: sc => { sc.ticks = xTicks.map(v => ({value: v})); },
          afterFit: sc => { sc.height = XAXIS_H; }
        }
      }, yAxes(p.base))
    },
    plugins: [figurePlugin(p)]
  });
}

makeChart({
  key: 'ctl', canvas: 'ctlChart', left: 0, title: 'Control', titleX: 224,
  xMin: -0.919, xMax: 0.671, padL: 22, padR: 117,
  events: ctlEvents, t0: ctlT0, t0LabelY: 291, baseFrom: -0.895, baseTo: 0.707,
  base: {dx: 212, dy: 438, vy: 617, vz: 830, ta: 1070, so: 1245},
  emgTicks: {ta: [39, 80], so: [0, 122]},
  mid: true, notes: true,
  datasets: [].concat(
    kinematic('dx', ctlDxT, ctlDxMean, ctlDxHi, ctlDxLo),
    kinematic('dy', ctlDyT, ctlDyMean, ctlDyHi, ctlDyLo),
    kinematic('vy', ctlVyT, ctlVyMean, ctlVyHi, ctlVyLo),
    kinematic('vz', ctlVzT, ctlVzMean, ctlVzHi, ctlVzLo),
    emg('ta', ctlTaT, ctlTaMean, ctlTaHiT, ctlTaHi, ctlTaLoT, ctlTaLo, ctlTaRawStart, ctlTaRaw, ctlTaRaw2Start, ctlTaRaw2),
    emg('so', ctlSoT, ctlSoMean, ctlSoHiT, ctlSoHi, ctlSoLoT, ctlSoLo, ctlSoRawStart, ctlSoRaw, ctlSoRaw2Start, ctlSoRaw2)
  )
});

makeChart({
  key: 'hlg', canvas: 'hlgChart', left: 520, title: 'HLGD patient', titleX: 745,
  xMin: -0.862, xMax: 0.879, padL: 5, padR: 0,
  events: hlgEvents, t0: hlgT0, t0LabelY: 294, baseFrom: -0.814, baseTo: 0.879,
  base: {dx: 212, dy: 438, vy: 617, vz: 830, ta: 1074, so: 1245},
  emgTicks: {ta: [75, 112, 149], so: [0, 125, 167]},
  mid: false, notes: false,
  datasets: [].concat(
    kinematic('dx', hlgDxT, hlgDxMean, hlgDxHi, hlgDxLo),
    kinematic('dy', hlgDyT, hlgDyMean, hlgDyHi, hlgDyLo),
    kinematic('vy', hlgVyT, hlgVyMean, hlgVyHi, hlgVyLo),
    kinematic('vz', hlgVzT, hlgVzMean, hlgVzHi, hlgVzLo),
    emg('ta', hlgTaT, hlgTaMean, hlgTaHiT, hlgTaHi, hlgTaLoT, hlgTaLo, hlgTaRawStart, hlgTaRaw, hlgTaRaw2Start, hlgTaRaw2),
    emg('so', hlgSoT, hlgSoMean, hlgSoHiT, hlgSoHi, hlgSoLoT, hlgSoLo, hlgSoRawStart, hlgSoRaw, hlgSoRaw2Start, hlgSoRaw2)
  )
});
</script>
</body>
</html>
